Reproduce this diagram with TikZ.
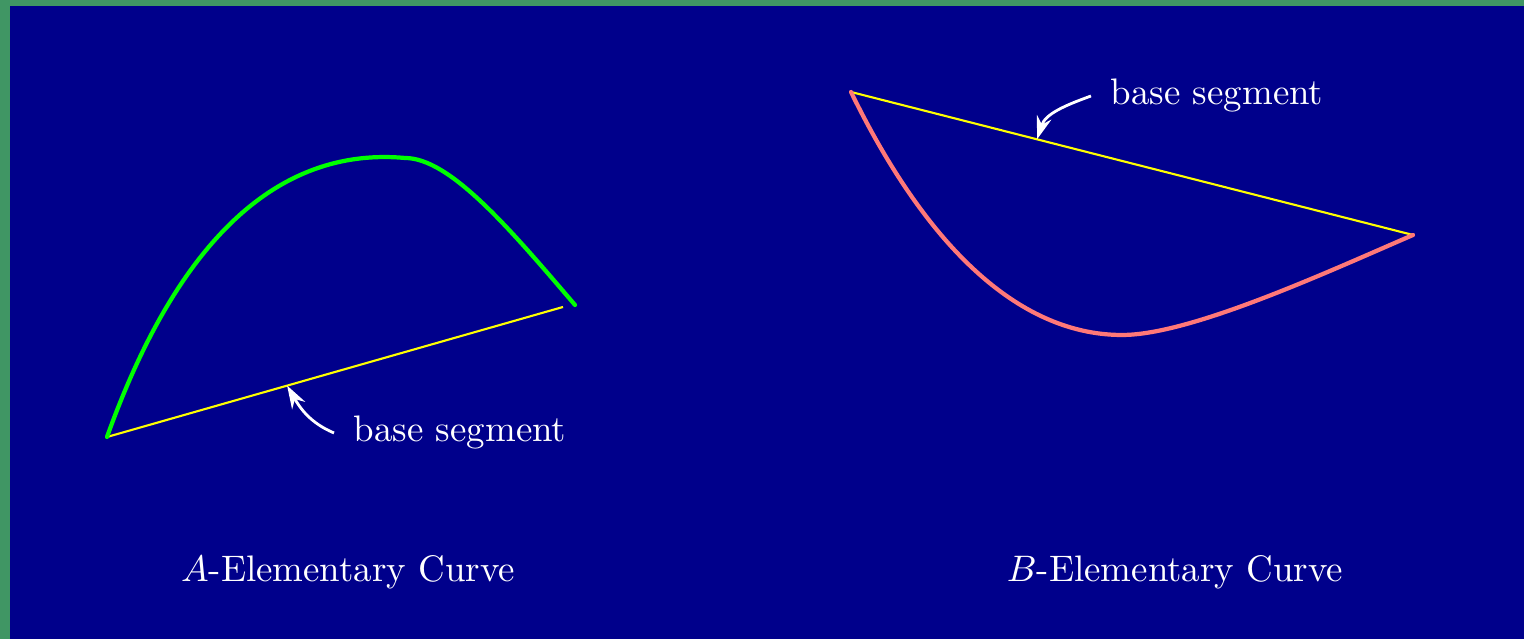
\documentclass[tikz,border=0pt]{standalone}
\usepackage{fix-cm}
\usepackage{xcolor}
\usepackage{tikz}
\usetikzlibrary{arrows.meta,calc}
\definecolor{framegreen}{HTML}{409664}
\definecolor{sheetblue}{HTML}{00008B}
\definecolor{curvegreen}{HTML}{00FF00}
\definecolor{curvepink}{HTML}{FF7878}
\definecolor{segyellow}{HTML}{FFFF00}
\tikzset{
  elemcurve/.style={line width=1.2pt,line cap=round},
  basesegment/.style={draw=segyellow,line width=0.6pt},
  pointer/.style={-{Stealth[length=2.3mm,width=1.5mm]},line width=0.8pt,draw=white},
  note/.style={text=white,font=\fontsize{10.5}{12.6}\selectfont,inner xsep=1.9mm},
  caption/.style={text=white,font=\fontsize{10.5}{12.6}\selectfont,anchor=base}
}
\begin{document}
\begin{tikzpicture}
  \fill[framegreen] (0,0) rectangle (15.24,6.39);
  \fill[sheetblue] (0.10,0) rectangle (15.24,6.33);
  \useasboundingbox (0,0) rectangle (15.24,6.39);
  \coordinate (a0) at (1.07,2.02);
  \coordinate (atop) at (4.05,4.81);
  \coordinate (a1) at (5.75,3.34);
  \coordinate (ab) at (5.63,3.32);
  \coordinate (b0) at (8.51,5.47);
  \coordinate (blow) at (11.22,3.04);
  \coordinate (b1) at (14.13,4.04);
  \coordinate (tipA) at ($(a0)!0.395!(ab)$);
  \coordinate (tipB) at ($(b0)!0.331!(b1)$);
  \draw[basesegment] (a0) -- (ab);
  \draw[elemcurve,draw=curvegreen] (a0) .. controls (1.6,3.5) and (2.5,4.95) .. (atop)
    .. controls (4.5,4.81) and (5.1,4.1) .. (a1);
  \draw[basesegment] (b0) -- (b1);
  \draw[elemcurve,draw=curvepink] (b0) .. controls (9.35,3.75) and (10.3,3.04) .. (blow)
    .. controls (11.9,3.04) and (13.23,3.65) .. (b1);
  \node[note,anchor=base west] (noteA) at (3.34,1.97) {base segment};
  \node[note,anchor=base west] (noteB) at (10.91,5.34) {base segment};
  \draw[pointer] (noteA.west) to[out=157,in=-60] (tipA);
  \draw[pointer] (noteB.west) to[out=200,in=72] (tipB);
  \node[caption] (capA) at (3.48,0.57) {$A$-Elementary Curve};
  \node[caption] (capB) at (11.75,0.57) {$B$-Elementary Curve};
\end{tikzpicture}
\end{document}
